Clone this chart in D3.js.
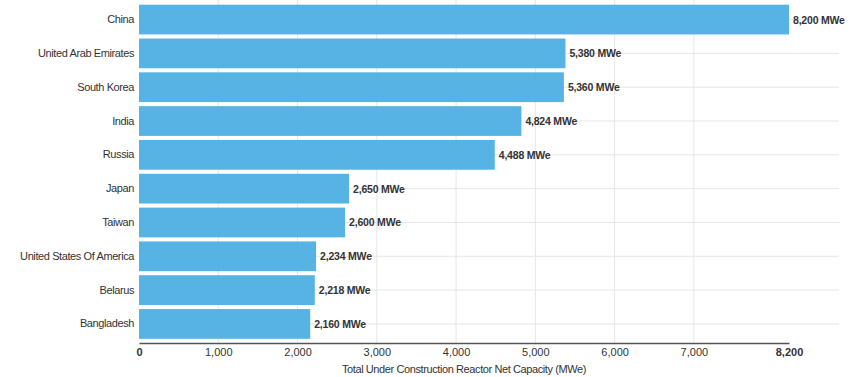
<!DOCTYPE html>
<html>
<head>
<meta charset="utf-8">
<script src="https://cdn.jsdelivr.net/npm/d3@7"></script>
<style>
body { margin: 0; background: #fff; }
text { font-family: "Liberation Sans", Arial, sans-serif; }
</style>
</head>
<body>
<div class="vizcontainer"></div>
<script>
const countries = ["China", "United Arab Emirates", "South Korea", "India", "Russia",
  "Japan", "Taiwan", "United States Of America", "Belarus", "Bangladesh"];
const capacity = [8200, 5380, 5360, 4824, 4488, 2650, 2600, 2234, 2218, 2160];
const tickValues = [0, 1000, 2000, 3000, 4000, 5000, 6000, 7000, 8200];

const padding = ({ top: 3, left: 139, right: 72, bottom: 36 });
const chart = ({ x: 861, y: 377 });

const data = countries.map((c, i) => ({ name: c, value: capacity[i] }));

var svgCanvas = d3.select(".vizcontainer")
  .append("svg")
  .attr("width", chart.x)
  .attr("height", chart.y);

var xscale = d3.scaleLinear()
  .domain([0, 8200])
  .range([padding.left, chart.x - padding.right]);

var yscale = d3.scaleBand()
  .domain(countries)
  .range([padding.top, chart.y - padding.bottom - 0.5])
  .paddingInner(0.12)
  .paddingOuter(0.05);

var gridRight = 839;
var axisY = chart.y - padding.bottom + 2;

// vertical gridlines
svgCanvas.append("g")
  .selectAll("line")
  .data(tickValues.slice(1, -1))
  .enter()
  .append("line")
  .attr("x1", d => xscale(d))
  .attr("x2", d => xscale(d))
  .attr("y1", 0)
  .attr("y2", axisY)
  .style("stroke", "#e6e6e6");

// horizontal gridlines at band centres
svgCanvas.append("g")
  .selectAll("line")
  .data(countries)
  .enter()
  .append("line")
  .attr("x1", padding.left)
  .attr("x2", gridRight)
  .attr("y1", d => yscale(d) + yscale.bandwidth() / 2)
  .attr("y2", d => yscale(d) + yscale.bandwidth() / 2)
  .style("stroke", "#e6e6e6");

svgCanvas.append("g")
  .selectAll("rect")
  .data(data)
  .enter()
  .append("rect")
  .attr("x", xscale(0))
  .attr("y", d => yscale(d.name))
  .attr("width", d => xscale(d.value) - xscale(0))
  .attr("height", yscale.bandwidth())
  .style("fill", "#48ade1")
  .style("fill-opacity", 0.92);

svgCanvas.append("g")
  .selectAll("text")
  .data(data)
  .enter()
  .append("text")
  .attr("x", d => xscale(d.value) + 4)
  .attr("y", d => yscale(d.name) + yscale.bandwidth() / 2 + 4)
  .style("font-size", "10.5px")
  .style("letter-spacing", "-0.2px")
  .style("font-weight", "bold")
  .style("fill", "#333")
  .text(d => d3.format(",")(d.value) + " MWe");

var yAxis = d3.axisLeft(yscale).tickSize(0).tickPadding(4);
svgCanvas.append("g")
  .attr("transform", "translate(" + (padding.left - 1) + ",0)")
  .call(yAxis)
  .call(g => g.select(".domain").remove())
  .call(g => g.selectAll("text")
    .style("font-size", "11px")
    .style("letter-spacing", "-0.4px")
    .style("fill", "#333")
    .style("font-family", "'Liberation Sans', Arial, sans-serif"));

var xAxis = d3.axisBottom(xscale)
  .tickValues(tickValues)
  .tickSize(0)
  .tickPadding(5)
  .tickFormat(d3.format(","));
svgCanvas.append("g")
  .attr("transform", "translate(0," + axisY + ")")
  .call(xAxis)
  .call(g => g.select(".domain").attr("stroke", "#555").attr("stroke-width", 1.5))
  .call(g => g.selectAll("text")
    .style("font-size", "11px")
    .style("fill", "#333")
    .style("font-family", "'Liberation Sans', Arial, sans-serif")
    .style("font-weight", d => (d === 0 || d === 8200) ? "bold" : "normal"));

svgCanvas.append("text")
  .attr("text-anchor", "middle")
  .attr("x", (xscale(0) + xscale(8200)) / 2)
  .attr("y", chart.y - 4)
  .style("font-size", "11px")
  .style("letter-spacing", "-0.4px")
  .style("fill", "#333")
  .text("Total Under Construction Reactor Net Capacity (MWe)");
</script>
</body>
</html>
